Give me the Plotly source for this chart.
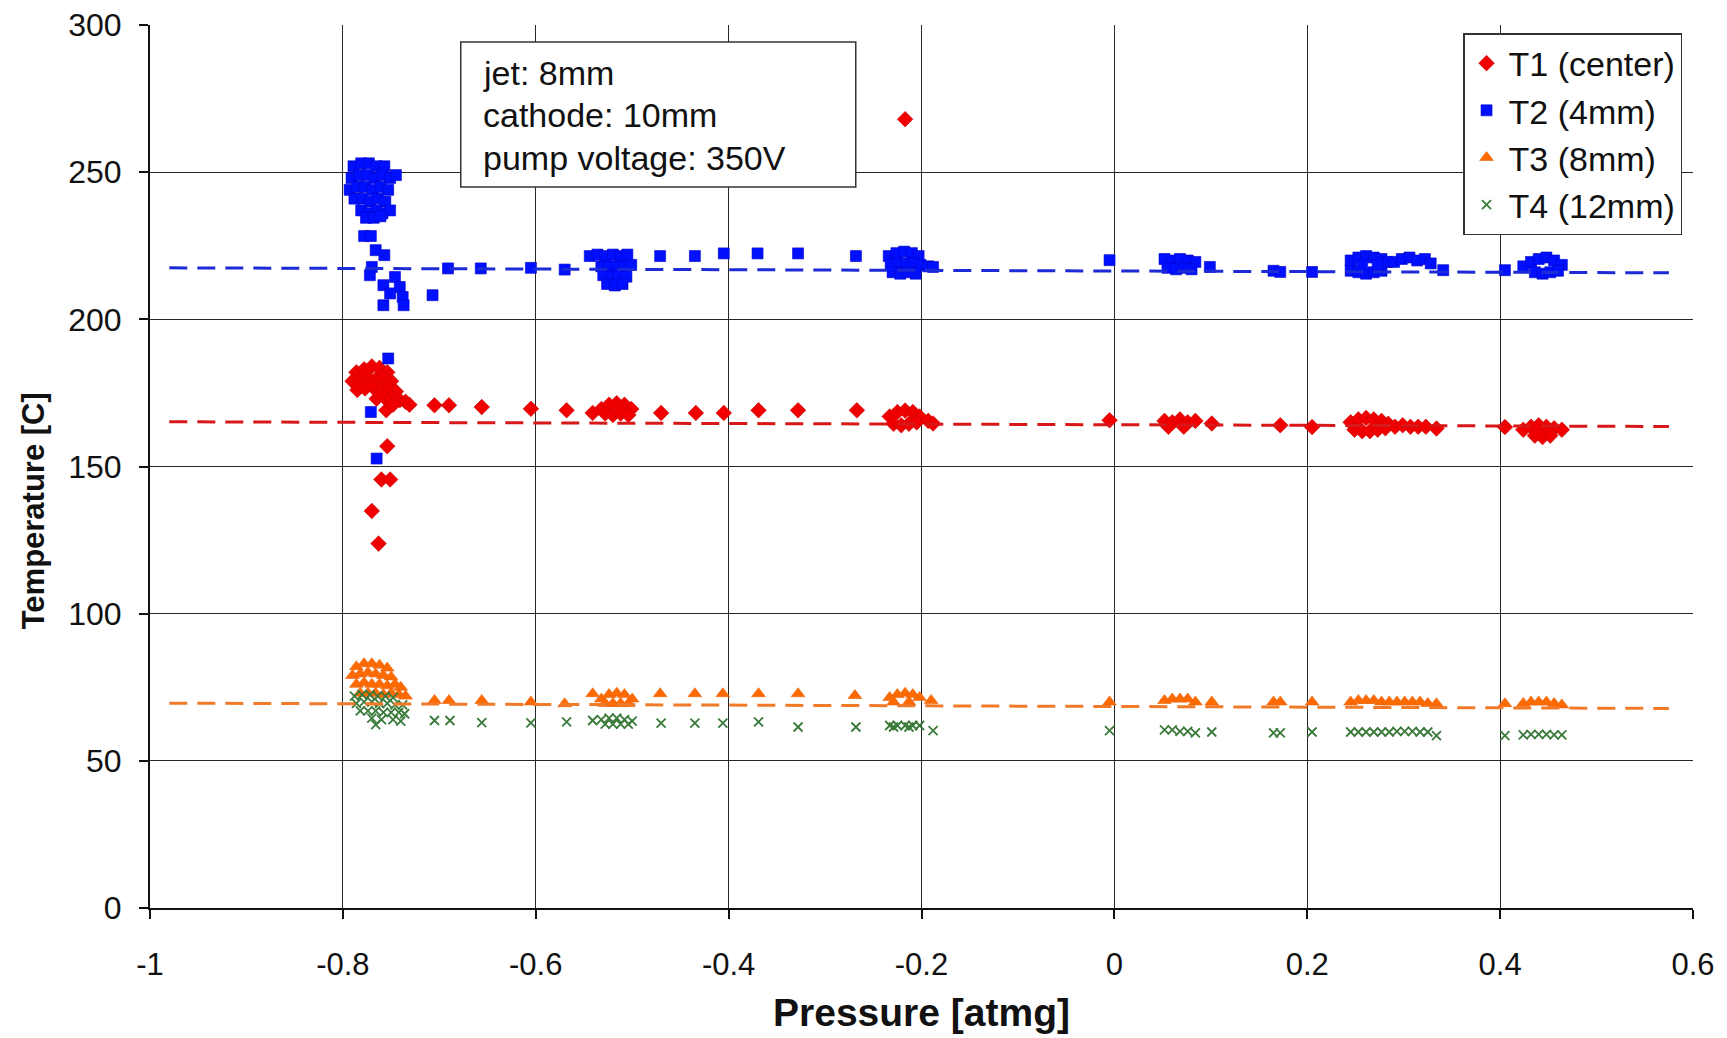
import plotly.graph_objects as go

# ---------------- data ----------------
series_names = ["T1 (center)", "T2 (4mm)", "T3 (8mm)", "T4 (12mm)"]

t1_x = [-0.786,-0.778,-0.770,-0.762,-0.754,
        -0.790,-0.782,-0.774,-0.766,-0.758,-0.750,
        -0.785,-0.777,-0.769,-0.761,-0.753,-0.745,
        -0.765,-0.757,-0.749,-0.741,-0.735,-0.731,
        -0.755,-0.748,
        -0.705,-0.690,-0.656,-0.605,-0.568,-0.541,
        -0.754,-0.760,-0.751,-0.770,-0.763,
        -0.532,-0.524,-0.516,-0.508,-0.501,-0.528,-0.520,-0.512,-0.504,
        -0.470,-0.434,-0.405,-0.369,-0.328,-0.267,
        -0.233,-0.225,-0.217,-0.209,-0.202,-0.229,-0.221,-0.213,-0.205,
        -0.193,-0.188,
        -0.217,
        -0.005,
        0.052,0.060,0.068,0.076,0.084,0.056,0.072,
        0.101,0.172,0.205,
        0.245,0.253,0.261,0.269,0.277,0.284,0.249,0.257,0.265,0.273,0.281,0.291,0.299,0.307,0.315,0.323,0.334,
        0.405,
        0.424,0.432,0.440,0.448,0.456,0.464,0.436,0.444,0.452]
t1_y = [182,183,184,183.5,182,
        179,179.5,180,179.5,180,179,
        176,176.5,177,176,176.5,175.5,
        173,173.5,173,172.5,172,171,
        169.1,171,
        170.8,170.8,170.2,169.6,169.1,168.2,
        156.9,145.6,145.6,134.9,123.8,
        169.5,171,171.5,171,169.5,168,167.5,168,167.5,
        168.2,168.2,168.2,169.1,169.1,169.1,
        167,168.5,169,168.5,167,164.5,164,164.5,165,
        165.5,164.6,
        268,
        165.7,
        165.5,165,166,165,165.5,163.5,163.5,
        164.6,164,163.4,
        165,166,166.5,166,165.5,164.5,162.5,162,162,162.5,163,163.5,164,163.5,163.5,163.5,162.9,
        163.4,
        162.5,163.5,164,163.5,163,162.5,160.5,160,160.5]

t2_x = [-0.789,-0.781,-0.773,-0.765,-0.757,
        -0.791,-0.783,-0.775,-0.767,-0.759,-0.751,-0.745,
        -0.793,-0.785,-0.777,-0.769,-0.761,-0.753,
        -0.788,-0.780,-0.772,-0.764,-0.756,
        -0.781,-0.773,-0.765,-0.759,-0.751,
        -0.776,-0.768,-0.761,
        -0.778,-0.771,-0.766,-0.757,-0.770,-0.772,-0.746,-0.758,-0.741,-0.751,-0.738,-0.758,-0.737,
        -0.707,-0.691,-0.657,-0.605,-0.570,
        -0.753,-0.771,-0.765,
        -0.544,-0.536,-0.528,-0.520,-0.512,-0.505,
        -0.532,-0.524,-0.516,-0.508,-0.501,
        -0.530,-0.522,-0.514,-0.506,
        -0.526,-0.518,-0.510,
        -0.471,-0.435,-0.405,-0.370,-0.328,-0.268,
        -0.234,-0.226,-0.218,-0.210,-0.203,
        -0.232,-0.224,-0.216,-0.208,-0.201,
        -0.230,-0.222,-0.214,-0.206,
        -0.193,-0.188,
        -0.005,
        0.052,0.060,0.068,0.076,0.084,0.055,0.064,0.072,0.080,
        0.099,0.165,0.172,0.205,
        0.245,0.253,0.261,0.269,0.277,0.283,0.245,0.253,0.261,0.269,0.277,0.257,0.273,
        0.290,0.298,0.306,0.314,0.322,0.328,
        0.341,0.405,
        0.424,0.432,0.440,0.448,0.456,0.464,0.436,0.444,0.452,0.460]
t2_y = [252,253,253,252,252,
        248,249,249,248,249,248,249,
        244,245,245,244,245,244,
        241,241,240,241,240,
        237,236,237,236,237,
        234.5,234.5,235,
        228.3,228.3,223.5,221.8,217.8,215,214.4,211.6,211,208.8,207.6,204.8,204.8,
        208.2,217.3,217.3,217.5,216.9,
        186.7,168.5,152.7,
        221.5,222,221.5,222,221.5,222,
        218,218,218,218,218.5,
        215,214.5,215,214.5,
        212,211.5,212,
        221.5,221.5,222.4,222.4,222.4,221.5,
        221.5,222.5,223,222.5,221.5,
        218.5,219,219,219,218.5,
        216,215.5,216,215.5,
        218,217.8,
        220.1,
        220.5,220,220.5,220,219.5,217.5,217,217.5,217,
        217.8,216.5,216.1,216.1,
        220,221,221.5,221,220.5,219.5,216.5,216,215.5,216,216.5,218.5,218.5,
        219.5,220.5,221,220,220.5,219,
        216.7,216.7,
        218,219.5,220.5,221,220,218.5,216,215.5,216,216.5]

t3_x = [-0.786,-0.778,-0.770,-0.762,-0.754,
        -0.790,-0.782,-0.774,-0.766,-0.758,-0.750,
        -0.786,-0.778,-0.770,-0.762,-0.754,-0.746,-0.740,
        -0.782,-0.774,-0.766,-0.758,-0.750,-0.742,-0.735,
        -0.705,-0.690,-0.656,-0.605,-0.570,-0.541,
        -0.532,-0.524,-0.516,-0.508,-0.500,-0.528,-0.520,-0.512,-0.504,
        -0.471,-0.435,-0.406,-0.369,-0.328,-0.269,
        -0.233,-0.225,-0.217,-0.209,-0.202,-0.229,-0.213,
        -0.190,
        -0.005,
        0.052,0.060,0.068,0.076,0.084,0.101,
        0.165,0.172,0.205,
        0.245,0.253,0.261,0.269,0.277,0.285,0.293,0.301,0.309,0.317,0.325,0.334,
        0.405,
        0.424,0.432,0.440,0.448,0.456,0.464]
t3_y = [82,83,83,82.5,81.5,
        79,79.5,80,79.5,79,78.5,
        76,76.5,76,76,75.5,76,75,
        73,73,73,72.5,73,72.5,72,
        70.5,70.5,70.5,70,69.4,72.8,
        71,72.5,73,72.5,71,69.5,69.5,69.5,69.5,
        72.8,72.8,72.8,72.8,72.8,72.2,
        71.5,72.5,73,72.5,71.5,70,70,
        70.5,
        70,
        70.5,71,71,71,70,70,
        70,70,70,
        70,70.5,70.5,70.5,70,70,70,70,70,70,69.5,69.4,
        69.4,
        69.5,70,70,70,69.5,69]

t4_x = [-0.788,-0.780,-0.772,-0.764,-0.756,-0.748,
        -0.786,-0.778,-0.770,-0.762,-0.754,-0.746,-0.738,
        -0.782,-0.774,-0.766,-0.758,-0.750,-0.742,-0.736,
        -0.770,-0.766,-0.760,-0.748,-0.740,
        -0.705,-0.689,-0.656,-0.605,-0.568,-0.541,
        -0.532,-0.524,-0.516,-0.508,-0.500,-0.528,-0.520,-0.512,-0.504,
        -0.470,-0.435,-0.406,-0.369,-0.328,-0.268,
        -0.233,-0.225,-0.217,-0.209,-0.202,-0.229,-0.213,
        -0.188,
        -0.005,
        0.052,0.060,0.068,0.076,0.084,
        0.101,0.165,0.172,0.205,
        0.245,0.253,0.261,0.269,0.277,0.285,0.293,0.301,0.309,0.317,0.325,0.334,
        0.405,
        0.424,0.432,0.440,0.448,0.456,0.464]
t4_y = [72,72.5,72.5,72,72,71.5,
        69.5,70,70,69.5,69.5,69,69,
        67,67,67,66.5,66.5,66.5,66,
        64.5,62.3,64,64,63.5,
        63.7,63.7,63,62.9,63.2,63.7,
        64,64.5,64.5,64,63.5,62.5,62.5,62.5,62.5,
        62.8,62.8,62.8,63.2,61.5,61.5,
        62,62,62,62,62,61.5,61.5,
        60.3,
        60.3,
        60.5,60.5,60,60,59.5,
        59.8,59.5,59.5,59.8,
        59.8,59.8,59.8,59.8,59.8,59.8,60,60,60,59.8,59.8,58.6,
        58.6,
        58.8,59,59,59,58.8,58.8]

# linear trendline end points
trend_x = [-0.98, 0.575]
t1_trend = [165.2, 163.6]
t2_trend = [217.5, 215.8]
t3_trend = [69.6, 67.8]

x_ticks = [-1, -0.8, -0.6, -0.4, -0.2, 0, 0.2, 0.4, 0.6]
x_tick_text = ["-1", "-0.8", "-0.6", "-0.4", "-0.2", "0", "0.2", "0.4", "0.6"]
y_ticks = [0, 50, 100, 150, 200, 250, 300]

info_lines = ["jet: 8mm", "cathode: 10mm", "pump voltage: 350V"]
y_title = "Temperature [C]"
x_title = "Pressure [atmg]"

# ---------------- figure ----------------
fig = go.Figure()

fig.add_trace(go.Scatter(x=t1_x, y=t1_y, mode="markers", name=series_names[0],
                         legendgroup="a",
                         marker=dict(symbol="diamond", size=12, color="#f00000",
                                     line=dict(color="#c80000", width=0.6))))
fig.add_trace(go.Scatter(x=t2_x, y=t2_y, mode="markers", name=series_names[1],
                         legendgroup="b",
                         marker=dict(symbol="square", size=11, color="#0010ff",
                                     line=dict(color="#0000c8", width=0.6))))
fig.add_trace(go.Scatter(x=t3_x, y=t3_y, mode="markers", name=series_names[2],
                         legendgroup="c",
                         marker=dict(symbol="triangle-up", size=12, color="#ff6a00",
                                     line=dict(color="#e86410", width=0.6))))
fig.add_trace(go.Scatter(x=t4_x, y=t4_y, mode="markers", name=series_names[3],
                         legendgroup="d",
                         marker=dict(symbol="x-thin", size=9, color="#3a7a3a",
                                     line=dict(color="#3a7a3a", width=1.8))))

for yy, col in ((t2_trend, "#1c2bd6"), (t1_trend, "#d81818"), (t3_trend, "#f07a28")):
    fig.add_trace(go.Scatter(x=trend_x, y=yy, mode="lines", showlegend=False,
                             hoverinfo="skip",
                             line=dict(color=col, width=3, dash="18px,10px")))

grid_col = "#262626"
fig.update_xaxes(range=[-1, 0.6], tickmode="array", tickvals=x_ticks, ticktext=x_tick_text,
                 automargin=False,
                 showgrid=True, gridcolor=grid_col, gridwidth=1, zeroline=False,
                 showline=True, linecolor="#111111", linewidth=2,
                 ticks="outside", ticklen=9, tickcolor="#111111", tickwidth=1.5,
                 ticklabelstandoff=19, ticklabeloverflow="allow",
                 tickfont=dict(family="Liberation Sans Narrow, Liberation Sans, Arial", size=31, color="#111111"),
                 title=dict(text=x_title, standoff=17,
                            font=dict(family="Liberation Sans, Arial", size=39, color="#111111",
                                      weight="bold")))
fig.update_yaxes(range=[0, 300], tickmode="array", tickvals=y_ticks,
                 automargin=False,
                 showgrid=True, gridcolor=grid_col, gridwidth=1, zeroline=False,
                 showline=True, linecolor="#111111", linewidth=2,
                 ticks="outside", ticklen=9, tickcolor="#111111", tickwidth=1.5,
                 ticklabelstandoff=11, ticklabeloverflow="allow",
                 tickfont=dict(family="Liberation Sans, Arial", size=32, color="#111111"))

# y-axis title (placed like the reference: below the plot middle)
fig.add_annotation(xref="paper", yref="paper", x=-0.0758, y=0.4493,
                   xanchor="center", yanchor="middle", textangle=-90, showarrow=False,
                   text=y_title,
                   font=dict(family="Liberation Sans Narrow, Liberation Sans, Arial", size=31,
                             color="#111111", weight="bold"))

# info box
fig.add_shape(type="rect", xref="paper", yref="paper",
              x0=0.2014, x1=0.4574, y0=0.8164, y1=0.9807,
              line=dict(color="#333333", width=1.5), fillcolor="white", layer="above")
for line_text, ypos in zip(info_lines, (0.9459, 0.8986, 0.8497)):
    fig.add_annotation(xref="paper", yref="paper", x=0.2143, y=ypos,
                       xanchor="left", yanchor="middle", align="left", showarrow=False,
                       text=line_text,
                       font=dict(family="Liberation Sans, Arial", size=34, color="#111111"))

# the page body has an 8px default margin, so margins are reduced by 8px on top/left
fig.update_layout(
    width=1727, height=1038,
    margin=dict(l=142, r=42, t=17, b=138, autoexpand=False),
    paper_bgcolor="white", plot_bgcolor="white",
    showlegend=True,
    legend=dict(x=0.9929, y=0.9909, xanchor="right", yanchor="top",
                bgcolor="white", bordercolor="#333333", borderwidth=1.5,
                traceorder="grouped", tracegroupgap=0, itemwidth=34,
                font=dict(family="Liberation Sans, Arial", size=34, color="#111111")),
)

fig.write_html("out.html")
